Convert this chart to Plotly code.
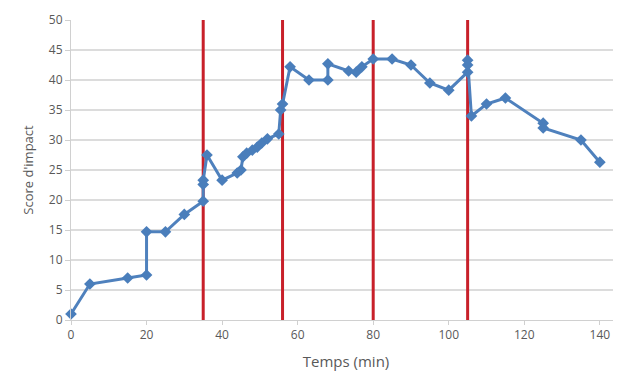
import plotly.graph_objects as go

# Data
temps = [0, 5, 15, 20, 20, 25, 30, 35, 35, 35, 36, 40, 44, 45, 45.5, 46.5, 48, 49.3, 50.5, 52, 55,
         55.5, 56, 58, 63, 68, 68, 73.5, 75.5, 77, 80, 85, 90, 95, 100, 105, 105, 105, 106, 110,
         115, 125, 125, 135, 140]
score = [1, 6, 7, 7.5, 14.7, 14.7, 17.6, 19.8, 22.6, 23.3, 27.5, 23.3, 24.5, 25, 27.2, 27.8,
         28.3, 28.8, 29.5, 30.2, 31, 35, 36, 42.2, 40, 40, 42.7, 41.5, 41.3, 42.2, 43.5, 43.5,
         42.5, 39.5, 38.3, 41.3, 42.5, 43.3, 34, 36, 37, 32.8, 32, 30, 26.3]
phase_times = [35, 56, 80, 105]
y_span = [0, 50]

x_ticks = [0, 20, 40, 60, 80, 100, 120, 140]
y_ticks = [0, 5, 10, 15, 20, 25, 30, 35, 40, 45, 50]

fig = go.Figure()

for t in phase_times:
    fig.add_trace(go.Scatter(x=[t, t], y=y_span, mode="lines",
                             line=dict(color="#c8202a", width=3),
                             showlegend=False, hoverinfo="skip", cliponaxis=False))

fig.add_trace(go.Scatter(x=temps, y=score, mode="lines+markers",
                         line=dict(color="#4f81bd", width=3),
                         marker=dict(symbol="diamond", size=9, color="#4a7ebb"),
                         showlegend=False, cliponaxis=False))

font_family = "Open Sans, Liberation Sans, sans-serif"
fig.update_layout(
    width=613, height=372,
    margin=dict(l=63, r=0, t=12, b=60),
    paper_bgcolor="white", plot_bgcolor="white",
    font=dict(family=font_family, color="#595959", size=12),
    xaxis=dict(range=[0, 145.6], tickvals=x_ticks, showgrid=False, zeroline=False,
               showline=True, linecolor="#d0d0d0", linewidth=1,
               ticks="outside", ticklen=4, tickcolor="#d0d0d0",
               tickfont=dict(size=12, color="#595959"),
               title=dict(text="Temps (min)", font=dict(size=15, color="#595959"), standoff=14)),
    yaxis=dict(range=[0, 50], tickvals=y_ticks, showgrid=True, gridcolor="#dcdcdc", gridwidth=1.5,
               zeroline=False, showline=True, linecolor="#d0d0d0", linewidth=1,
               ticks="outside", ticklen=5, tickcolor="#d0d0d0",
               tickfont=dict(size=12, color="#595959"),
               title=dict(text="Score d'impact", font=dict(size=13, color="#595959"), standoff=12)),
)

fig.write_html("out.html")
